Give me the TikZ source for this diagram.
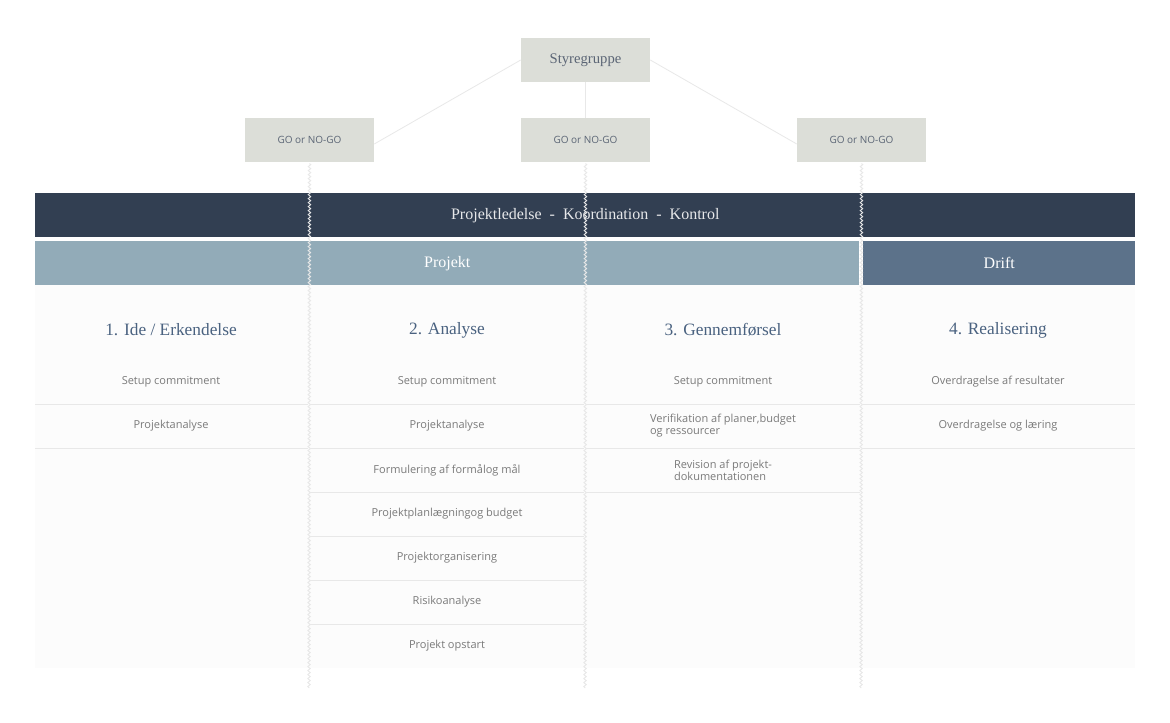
\documentclass[tikz,border=0pt]{standalone}
\usepackage{fontspec}
\setmainfont{Open Sans}
\newfontfamily\headfont{Liberation Serif}
\usetikzlibrary{positioning,decorations.pathmorphing}
\definecolor{boxgrey}{HTML}{DCDED8}
\definecolor{darkband}{HTML}{323F52}
\definecolor{projband}{HTML}{92ABB8}
\definecolor{driftband}{HTML}{5C728A}
\definecolor{headblue}{HTML}{4A6280}
\definecolor{itemgrey}{HTML}{7A7A7A}
\definecolor{rulegrey}{HTML}{E8E8E8}
\tikzset{
	gobox/.style={fill=boxgrey, minimum width=96.75pt, minimum height=33pt, inner sep=0pt, font=\fontsize{7.5}{9}\selectfont, text=darkband!80},
	band/.style={anchor=north west, inner sep=0pt, minimum height=33pt, font=\headfont\fontsize{12}{14}\selectfont, text=white},
	phase/.style={font=\headfont\fontsize{13}{15}\selectfont, text=headblue},
	item/.style={font=\fontsize{8.25}{9}\selectfont, text=itemgrey, align=center},
	conn/.style={draw=rulegrey, line width=0.6pt},
	seam/.style={draw=rulegrey, line width=0.7pt, decorate, decoration={zigzag, amplitude=0.9pt, segment length=3pt}}
}
\begin{document}
\begin{tikzpicture}[x=0.75pt, y=-0.75pt]
	\useasboundingbox[fill=white] (0,0) rectangle (1170,723);
	\fill[black!1] (35,285) rectangle (1135,668);

	% top of the hierarchy
	\node [gobox, font=\headfont\fontsize{11}{13}\selectfont] (sg) at (585.5,60) {Styregruppe};
	\node [gobox] (go1) at (309.5,140) {GO or NO-GO};
	\node [gobox] (go2) at (585.5,140) {GO or NO-GO};
	\node [gobox] (go3) at (861.5,140) {GO or NO-GO};
	\draw[conn] (sg.west) -- ([yshift=-3pt]go1.east);
	\draw[conn] (sg.south) -- (go2.north);
	\draw[conn] (sg.east) -- ([yshift=-3pt]go3.west);

	% bands
	\node [band, fill=darkband, minimum width=825pt, text=white!88!darkband] (ledelse) at (35,193) {Projektledelse\ \ -\ \ Koordination\ \ -\ \ Kontrol};
	\node [band, fill=projband, minimum width=618pt] (projekt) at (35,241) {Projekt};
	\node [band, fill=driftband, minimum width=204pt] (drift) at (863,241) {Drift};

	% phases
	\node [phase] (p1) at (171,330) {1. Ide / Erkendelse};
	\node [phase] (p2) at (447,330) {2. Analyse};
	\node [phase] (p3) at (723,330) {3. Gennemførsel};
	\node [phase] (p4) at (998,330) {4. Realisering};

	% row rules
	\foreach \y in {404,448} \draw[rulegrey] (35,\y) -- (308,\y);
	\foreach \y in {404,448,...,624} \draw[rulegrey] (310,\y) -- (584,\y);
	\foreach \y in {404,448,492} \draw[rulegrey] (586,\y) -- (860,\y);
	\foreach \y in {404,448} \draw[rulegrey] (862,\y) -- (1135,\y);

	% items
	\node [item] (a1) at (171,382) {Setup commitment};
	\node [item] (a2) at (171,426) {Projektanalyse};
	\node [item] (b1) at (447,382) {Setup commitment};
	\node [item] (b2) at (447,426) {Projektanalyse};
	\node [item] (b3) at (447,470) {Formulering af formålog mål};
	\node [item] (b4) at (447,514) {Projektplanlægningog budget};
	\node [item] (b5) at (447,558) {Projektorganisering};
	\node [item] (b6) at (447,602) {Risikoanalyse};
	\node [item] (b7) at (447,646) {Projekt opstart};
	\node [item] (c1) at (723,382) {Setup commitment};
	\node [item, align=left] (c2) at (723,426) {Verifikation af planer,budget\\og ressourcer};
	\node [item, align=left] (c3) at (723,470) {Revision af projekt-\\dokumentationen};
	\node [item] (d1) at (998,382) {Overdragelse af resultater};
	\node [item] (d2) at (998,426) {Overdragelse og læring};

	% seams below the gates
	\coordinate (e1) at (309,688);
	\coordinate (e2) at (585,688);
	\coordinate (e3) at (861,688);
	\draw[seam] ([yshift=-1pt]go1.south) -- (e1);
	\draw[seam] ([yshift=-1pt]go2.south) -- (e2);
	\draw[seam] ([yshift=-1pt]go3.south) -- (e3);
\end{tikzpicture}
\end{document}
